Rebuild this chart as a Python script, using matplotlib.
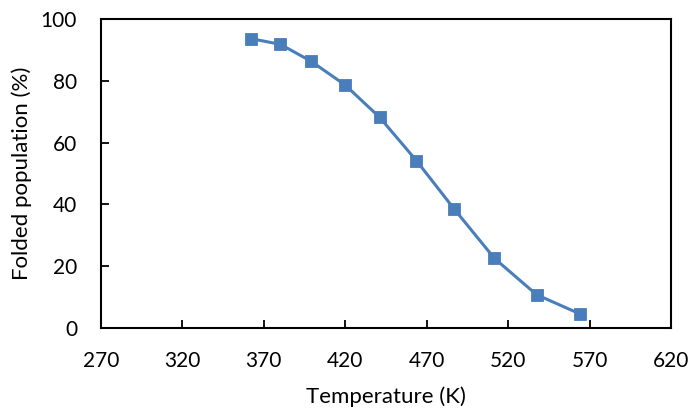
import matplotlib
matplotlib.use("Agg")
import matplotlib.pyplot as plt

# values
temperature = [362.5, 380.2, 399.1, 420.0, 441.2, 463.7, 486.9, 511.6, 537.5, 564.0]
folded_pct = [93.7, 91.9, 86.4, 78.7, 68.2, 54.2, 38.5, 22.5, 10.7, 4.5]

x_ticks = [270, 320, 370, 420, 470, 520, 570, 620]
y_ticks = [0, 20, 40, 60, 80, 100]

plt.rcParams["font.family"] = ["Lato", "DejaVu Sans"]

fig = plt.figure(figsize=(7, 4.18), dpi=100)
ax = fig.add_axes([0.1439, 0.216, 0.9586 - 0.1439, 0.9538 - 0.216])

ax.plot(temperature, folded_pct, color="#4A7EBB", linewidth=2.2,
        marker="s", markersize=8, markeredgewidth=0.6,
        markerfacecolor="#4A7EBB", markeredgecolor="#4A7EBB")

ax.set_xlim(270, 620)
ax.set_ylim(0, 100)
ax.set_xticks(x_ticks)
ax.set_yticks(y_ticks)
ax.tick_params(direction="in", length=6, width=1.3, color="black", pad=17,
               labelsize=15)
for side in ax.spines.values():
    side.set_linewidth(1.5)
    side.set_color("black")

ax.set_xlabel("Temperature (K)", fontsize=16, labelpad=11)
ax.set_ylabel("Folded population (%)", fontsize=16, labelpad=6.5)

fig.savefig("out.png", dpi=100)
